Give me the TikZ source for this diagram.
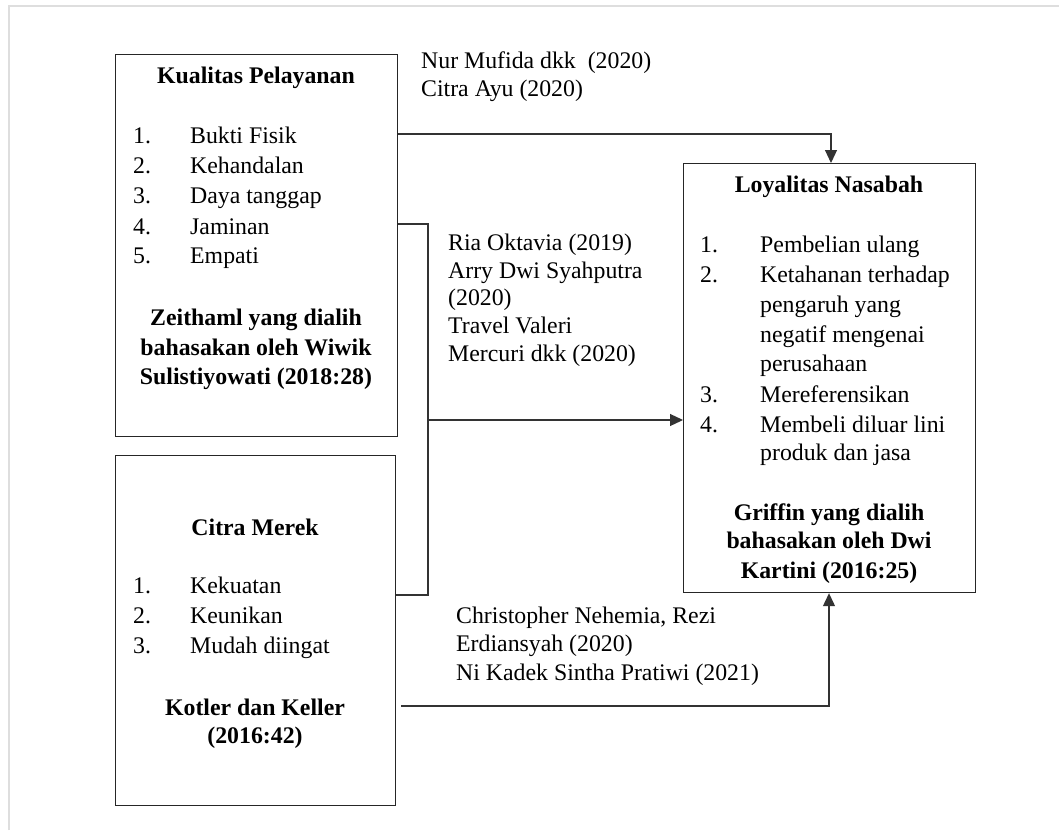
\documentclass[tikz,border=0pt]{standalone}
\usepackage{fontspec}
\setmainfont{Liberation Serif}
\usetikzlibrary{arrows.meta}
\begin{document}
\begin{tikzpicture}[x=1pt,y=-1pt,
  box/.style={draw=black!85, line width=1.2pt, inner sep=0pt, anchor=north west},
  txt/.style={anchor=base west, inner sep=0pt, font=\fontsize{23.8}{28}\selectfont},
  btxt/.style={anchor=base, inner sep=0pt, font=\fontsize{23.8}{28}\selectfont\bfseries},
  conn/.style={draw=black!80, line width=1.2pt},
  arr/.style={conn, -{Triangle[length=13pt,width=12pt]}}]
\useasboundingbox (0,0) rectangle (1059,830);
\draw[black!13, line width=2pt] (9,830) -- (9,6) -- (1059,6);

% boxes
\node[box, minimum width=282pt, minimum height=382pt] (kp) at (115,54) {};
\node[box, minimum width=280pt, minimum height=350pt] (cm) at (115,455) {};
\node[box, minimum width=292pt, minimum height=429pt] (ln) at (683,163) {};

% Kualitas Pelayanan
\node[btxt] (kpt) at (256,83) {Kualitas Pelayanan};
\foreach \i/\t/\y in {1/Bukti Fisik/143, 2/Kehandalan/173, 3/Daya tanggap/203, 4/Jaminan/234, 5/Empati/263}{
  \node[txt] (kpn\i) at (133,\y) {\i.};
  \node[txt] (kpi\i) at (190,\y) {\t};
}
\node[btxt] (kps1) at (256,325) {Zeithaml yang dialih};
\node[btxt] (kps2) at (256,355) {bahasakan oleh Wiwik};
\node[btxt] (kps3) at (256,384) {Sulistiyowati (2018:28)};

% Citra Merek
\node[btxt] (cmt) at (255,535) {Citra Merek};
\foreach \i/\t/\y in {1/Kekuatan/593, 2/Keunikan/623, 3/Mudah diingat/653}{
  \node[txt] (cmn\i) at (133,\y) {\i.};
  \node[txt] (cmi\i) at (190,\y) {\t};
}
\node[btxt] (cms1) at (255,715) {Kotler dan Keller};
\node[btxt] (cms2) at (255,743) {(2016:42)};

% Loyalitas Nasabah
\node[btxt] (lnt) at (829,192) {Loyalitas Nasabah};
\node[txt] (lnn1) at (700,252) {1.};
\node[txt] (lni1) at (760,252) {Pembelian ulang};
\node[txt] (lnn2) at (700,282) {2.};
\node[txt] (lni2a) at (760,282) {Ketahanan terhadap};
\node[txt] (lni2b) at (760,312) {pengaruh yang};
\node[txt] (lni2c) at (760,342) {negatif mengenai};
\node[txt] (lni2d) at (760,371) {perusahaan};
\node[txt] (lnn3) at (700,402) {3.};
\node[txt] (lni3) at (760,402) {Mereferensikan};
\node[txt] (lnn4) at (700,432) {4.};
\node[txt] (lni4a) at (760,432) {Membeli diluar lini};
\node[txt] (lni4b) at (760,460) {produk dan jasa};
\node[btxt] (lns1) at (829,520) {Griffin yang dialih};
\node[btxt] (lns2) at (829,548) {bahasakan oleh Dwi};
\node[btxt] (lns3) at (829,578) {Kartini (2016:25)};

% citations
\node[txt] (c1a) at (421,68) {Nur Mufida dkk\ \ (2020)};
\node[txt] (c1b) at (421,96) {Citra Ayu (2020)};
\node[txt] (c2a) at (448,250) {Ria Oktavia (2019)};
\node[txt] (c2b) at (448,278) {Arry Dwi Syahputra};
\node[txt] (c2c) at (448,305) {(2020)};
\node[txt] (c2d) at (448,333) {Travel Valeri};
\node[txt] (c2e) at (448,361) {Mercuri dkk (2020)};
\node[txt] (c3a) at (456,623) {Christopher Nehemia, Rezi};
\node[txt] (c3b) at (456,651) {Erdiansyah (2020)};
\node[txt] (c3c) at (456,680) {Ni Kadek Sintha Pratiwi (2021)};

% connectors
\coordinate (t1) at (831,134);
\draw[arr] (t1 -| kp.east) -- (t1) -- (t1 |- ln.north);

\coordinate (m1) at (428,224);
\coordinate (m2) at (428,595);
\draw[conn] (m1 -| kp.east) -- (m1) -- (m2) -- (m2 -| cm.east);
\coordinate (m3) at (428,420);
\draw[arr] (m3) -- (m3 -| ln.west);

\coordinate (b0) at (401,706);
\coordinate (b1) at (829,706);
\draw[arr] (b0) -- (b1) -- (b1 |- ln.south);
\end{tikzpicture}
\end{document}
